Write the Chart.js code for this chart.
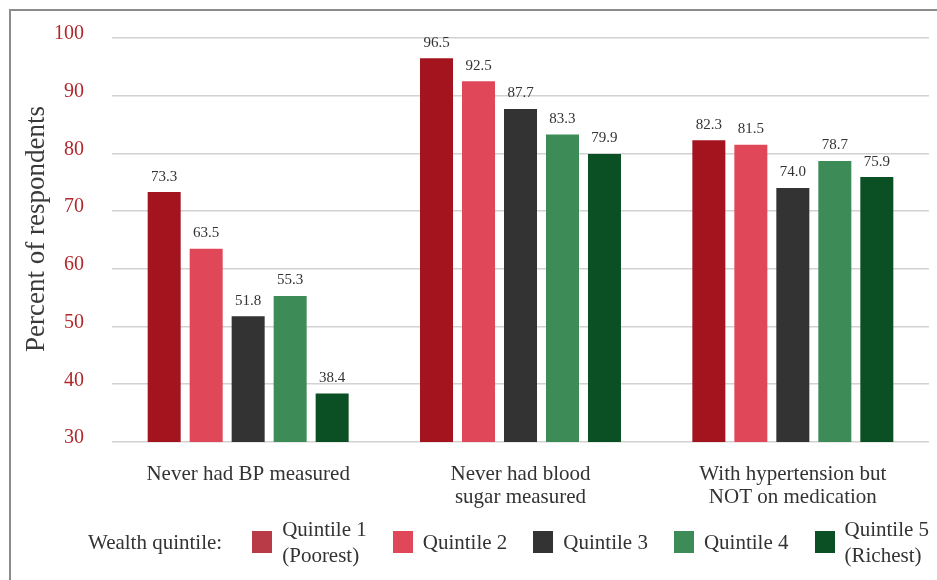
<!DOCTYPE html>
<html>
<head>
<meta charset="utf-8">
<script src="https://cdn.jsdelivr.net/npm/chart.js@4/dist/chart.umd.min.js"></script>
<style>
  html, body { margin: 0; padding: 0; background: #fff; }
  #wrap { position: relative; width: 937px; height: 580px; overflow: hidden; font-family: "Liberation Serif", serif; }
  #frame { position: absolute; left: 9px; top: 9px; width: 940px; height: 590px;
           border-top: 2px solid #8c8c8c; border-left: 2px solid #8c8c8c; box-sizing: border-box; }
  canvas { position: absolute; left: 0; top: 0; }
  #legend { position: absolute; left: 88px; top: 516px; width: 860px; height: 52px; display: flex; align-items: center;
            font-size: 21px; color: #333; line-height: 26px; white-space: nowrap; }
  #legend > * { flex-shrink: 0; }
  #legend .title { margin-right: 30px; }
  #legend .item { display: flex; align-items: center; margin-right: 26px; }
  #legend .item:last-child { margin-right: 0; }
  #legend .sw { width: 20px; height: 22px; margin-right: 10px; flex-shrink: 0; }
</style>
</head>
<body>
<div id="wrap">
  <div id="frame"></div>
  <canvas id="c" width="937" height="580"></canvas>
  <div id="legend"><span class="title">Wealth quintile:</span></div>
</div>
<script>
// Survey indicators (x-axis groups)
const categories = [
  ["Never had BP measured"],
  ["Never had blood", "sugar measured"],
  ["With hypertension but", "NOT on medication"]
];

// Percent of respondents by wealth quintile
const quintile1 = [73.3, 96.5, 82.3];
const quintile2 = [63.5, 92.5, 81.5];
const quintile3 = [51.8, 87.7, 74.0];
const quintile4 = [55.3, 83.3, 78.7];
const quintile5 = [38.4, 79.9, 75.9];

const seriesNames = ["Quintile 1 (Poorest)", "Quintile 2", "Quintile 3", "Quintile 4", "Quintile 5 (Richest)"];
const legendLines = [["Quintile 1", "(Poorest)"], ["Quintile 2"], ["Quintile 3"], ["Quintile 4"], ["Quintile 5", "(Richest)"]];
const barColors = ["#a3141f", "#e04759", "#333333", "#3d8b56", "#0b4f24"];
const swatchColors = ["#b93b47", "#e04759", "#333333", "#3d8b56", "#0b4f24"];

const yTicks = [30, 40, 50, 60, 70, 80, 90, 100];
const yTitle = "Percent of respondents";

const allSeries = [quintile1, quintile2, quintile3, quintile4, quintile5];

const FONT = "'Liberation Serif', serif";

// value labels above each bar
const valueLabels = {
  id: "valueLabels",
  afterDatasetsDraw(chart) {
    const ctx = chart.ctx;
    ctx.save();
    ctx.font = "15px " + FONT;
    ctx.fillStyle = "#333";
    ctx.textAlign = "center";
    ctx.textBaseline = "bottom";
    chart.data.datasets.forEach((ds, i) => {
      chart.getDatasetMeta(i).data.forEach((el, j) => {
        ctx.fillText(ds.data[j].toFixed(1), el.x, el.y - 8);
      });
    });
    ctx.restore();
  }
};

// rotated y-axis title
const axisTitle = {
  id: "axisTitle",
  afterDraw(chart) {
    const ctx = chart.ctx;
    ctx.save();
    ctx.translate(37, 229);
    ctx.rotate(-Math.PI / 2);
    ctx.font = "27px " + FONT;
    ctx.fillStyle = "#3a3a3a";
    ctx.textAlign = "center";
    ctx.textBaseline = "middle";
    ctx.fillText(yTitle, 0, 0);
    ctx.restore();
  }
};

new Chart(document.getElementById("c"), {
  type: "bar",
  data: {
    labels: categories,
    datasets: allSeries.map((vals, i) => ({
      label: seriesNames[i],
      data: vals,
      backgroundColor: barColors[i],
      borderWidth: 0,
      categoryPercentage: 0.771,
      barPercentage: 0.786
    }))
  },
  options: {
    responsive: false,
    animation: false,
    layout: { padding: { top: 38, right: 8, left: 0, bottom: 0 } },
    plugins: { legend: { display: false }, tooltip: { enabled: false } },
    scales: {
      x: {
        grid: { display: false, drawTicks: false },
        border: { display: false },
        ticks: { color: "#333", font: { family: FONT, size: 21, lineHeight: 1.1 }, padding: 21, maxRotation: 0 },
        afterFit(s) { s.height = 138; s.paddingLeft = 0; s.paddingRight = 0; }
      },
      y: {
        min: 30, max: 100,
        afterBuildTicks(s) { s.ticks = yTicks.map(v => ({ value: v })); },
        grid: { color: "#d2d2d2", lineWidth: 1.6, drawTicks: false },
        border: { display: false },
        ticks: { color: "#b0282c", font: { family: FONT, size: 20 }, padding: 28, labelOffset: -4 },
        afterFit(s) { s.width = 112; s.paddingTop = 0; s.paddingBottom = 0; }
      }
    }
  },
  plugins: [valueLabels, axisTitle]
});

// legend row
const legend = document.getElementById("legend");
legendLines.forEach((lines, i) => {
  const item = document.createElement("div");
  item.className = "item";
  const sw = document.createElement("span");
  sw.className = "sw";
  sw.style.background = swatchColors[i];
  const txt = document.createElement("span");
  txt.innerHTML = lines.join("<br>");
  item.appendChild(sw);
  item.appendChild(txt);
  legend.appendChild(item);
});
</script>
</body>
</html>
